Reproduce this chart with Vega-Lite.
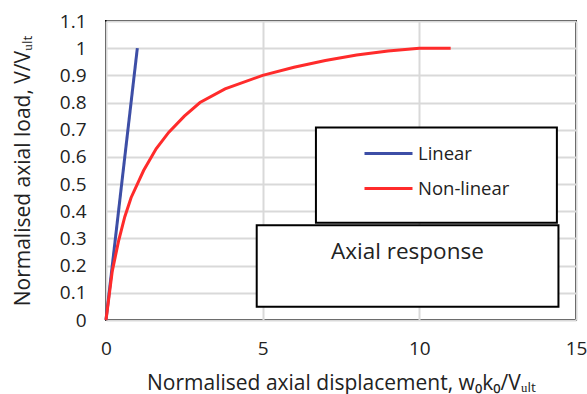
{
  "$schema": "https://vega.github.io/schema/vega-lite/v6.json",
  "width": 470,
  "height": 299,
  "autosize": {"type": "none"},
  "padding": {"left": 106, "top": 21, "right": 11, "bottom": 74},
  "background": "white",
  "config": {
    "font": "Open Sans",
    "view": {"stroke": "black", "strokeWidth": 2},
    "axis": {
      "grid": true,
      "gridColor": "#d9d9d9",
      "gridWidth": 2,
      "domain": false,
      "ticks": false,
      "labelOverlap": false,
      "labelFlush": false,
      "labelBound": false,
      "labelFont": "Open Sans",
      "labelFontSize": 19,
      "labelColor": "#222",
      "titleFont": "Open Sans",
      "titleFontSize": 21,
      "titleFontWeight": "normal",
      "titleColor": "#222"
    },
    "axisX": {
      "tickCount": 4,
      "labelPadding": 19,
      "titleX": 235, "titleY": 63, "titleBaseline": "middle"
    },
    "axisY": {
      "tickCount": 12,
      "format": "~g",
      "labelPadding": 20,
      "titleX": -83, "titleY": 149.5, "titleAngle": -90, "titleBaseline": "middle", "titleAlign": "center"
    }
  },
  "datasets": {
    "curves": [
      {"series": "Linear", "x": 0, "y": 0},
      {"series": "Linear", "x": 1, "y": 1},
      {"series": "Non-linear", "x": 0, "y": 0},
      {"series": "Non-linear", "x": 0.1, "y": 0.09},
      {"series": "Non-linear", "x": 0.2, "y": 0.18},
      {"series": "Non-linear", "x": 0.4, "y": 0.29},
      {"series": "Non-linear", "x": 0.6, "y": 0.38},
      {"series": "Non-linear", "x": 0.8, "y": 0.45},
      {"series": "Non-linear", "x": 1.2, "y": 0.55},
      {"series": "Non-linear", "x": 1.6, "y": 0.63},
      {"series": "Non-linear", "x": 2.0, "y": 0.69},
      {"series": "Non-linear", "x": 2.5, "y": 0.75},
      {"series": "Non-linear", "x": 3.0, "y": 0.8},
      {"series": "Non-linear", "x": 3.8, "y": 0.85},
      {"series": "Non-linear", "x": 5.0, "y": 0.9},
      {"series": "Non-linear", "x": 6.0, "y": 0.93},
      {"series": "Non-linear", "x": 7.0, "y": 0.955},
      {"series": "Non-linear", "x": 8.0, "y": 0.975},
      {"series": "Non-linear", "x": 9.0, "y": 0.99},
      {"series": "Non-linear", "x": 10.0, "y": 1.0},
      {"series": "Non-linear", "x": 11.0, "y": 1.0}
    ],
    "boxes": [
      {"name": "legend", "x1": 6.7, "x2": 14.39, "y1": 0.358, "y2": 0.708},
      {"name": "title", "x1": 4.81, "x2": 14.44, "y1": 0.049, "y2": 0.349}
    ],
    "labels": [
      {"label": "Axial response", "x": 9.62, "y": 0.252}
    ]
  },
  "layer": [
    {
      "data": {"name": "curves"},
      "mark": {"type": "line", "strokeWidth": 3},
      "encoding": {
        "x": {
          "field": "x", "type": "quantitative",
          "scale": {"domain": [0, 15], "nice": false},
          "axis": {"title": "Normalised axial displacement, w₀k₀/Vᵤₗₜ", "tickCount": 4}
        },
        "y": {
          "field": "y", "type": "quantitative",
          "scale": {"domain": [0, 1.1], "nice": false, "zero": true},
          "axis": {"title": "Normalised axial load, V/Vᵤₗₜ", "tickCount": 12}
        },
        "color": {
          "field": "series", "type": "nominal",
          "scale": {"domain": ["Linear", "Non-linear"], "range": ["#3d4ea6", "#ff2b2b"]},
          "legend": {
            "title": null,
            "orient": "none",
            "legendX": 257,
            "legendY": 107,
            "symbolType": "stroke",
            "symbolSize": 2304,
            "symbolStrokeWidth": 3,
            "labelFontSize": 18.5,
            "labelFont": "Open Sans",
            "labelColor": "#222",
            "labelOffset": 4,
            "rowPadding": 0,
            "padding": 0
          }
        },
        "detail": {"field": "series"},
        "order": {"field": "x", "type": "quantitative"}
      }
    },
    {
      "data": {"name": "boxes"},
      "mark": {"type": "rect", "fill": "white", "stroke": "black", "strokeWidth": 2},
      "encoding": {
        "x": {"field": "x1", "type": "quantitative", "axis": {"title": "Normalised axial displacement, w₀k₀/Vᵤₗₜ", "tickCount": 4}},
        "x2": {"field": "x2"},
        "y": {"field": "y1", "type": "quantitative", "axis": {"title": "Normalised axial load, V/Vᵤₗₜ", "tickCount": 12}},
        "y2": {"field": "y2"}
      }
    },
    {
      "data": {"name": "labels"},
      "mark": {"type": "text", "fontSize": 22.5, "font": "Open Sans", "color": "#222", "align": "center", "baseline": "middle"},
      "encoding": {
        "x": {"field": "x", "type": "quantitative", "axis": {"title": "Normalised axial displacement, w₀k₀/Vᵤₗₜ", "tickCount": 4}},
        "y": {"field": "y", "type": "quantitative", "axis": {"title": "Normalised axial load, V/Vᵤₗₜ", "tickCount": 12}},
        "text": {"field": "label"}
      }
    }
  ]
}
